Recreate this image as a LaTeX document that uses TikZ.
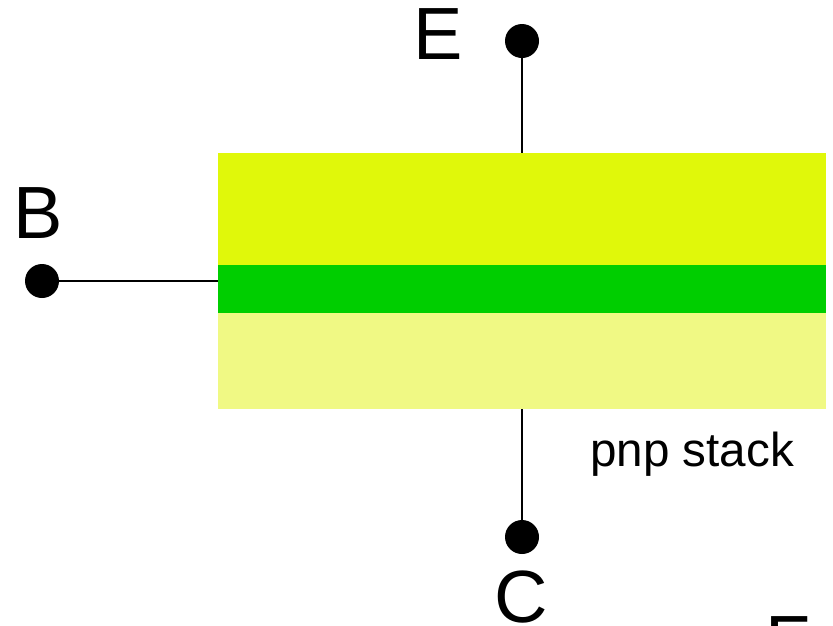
\documentclass[tikz,border=0pt]{standalone}
\usepackage{fontspec}
\setmainfont{Liberation Sans}
\definecolor{topc}{HTML}{E0F80A}
\definecolor{midc}{HTML}{00CE00}
\definecolor{botc}{HTML}{F0F984}
\tikzset{
  x=1pt,y=-1pt,
  layer/.style={draw=none,inner sep=0pt,outer sep=0pt,minimum width=608pt,anchor=north west},
  terminal/.style={circle,fill=black,draw=none,minimum size=34pt,inner sep=0pt,outer sep=0pt},
  lead/.style={draw=black,line width=1.5pt},
  biglabel/.style={font=\fontsize{74}{74}\selectfont,inner sep=0pt,anchor=base},
  smalllabel/.style={font=\fontsize{47.6}{48}\selectfont,inner sep=0pt,anchor=base}
}
\begin{document}
\begin{tikzpicture}
\useasboundingbox (0,0) rectangle (833,625);
\clip (0,0) rectangle (833,625);
\node[layer,fill=topc,minimum height=112pt] (top) at (218,153) {};
\node[layer,fill=midc,minimum height=48pt] (mid) at (218,265) {};
\node[layer,fill=botc,minimum height=96pt] (bot) at (218,313) {};
\node[terminal] (e) at (522,41) {};
\node[terminal] (b) at (42,281) {};
\node[terminal] (c) at (522,537) {};
\draw[lead] (e) -- (e|-top.north);
\draw[lead] (b) -- (b-|mid.west);
\draw[lead] (c) -- (c|-bot.south);
\node[biglabel] (le) at (438,59) {E};
\node[biglabel] (lb) at (38,238) {B};
\node[biglabel] (lc) at (521,622) {C};
\node[smalllabel] (ls) at (692,466) {pnp stack};
\node[biglabel] (lf) at (788,667) {F};
\end{tikzpicture}
\end{document}
